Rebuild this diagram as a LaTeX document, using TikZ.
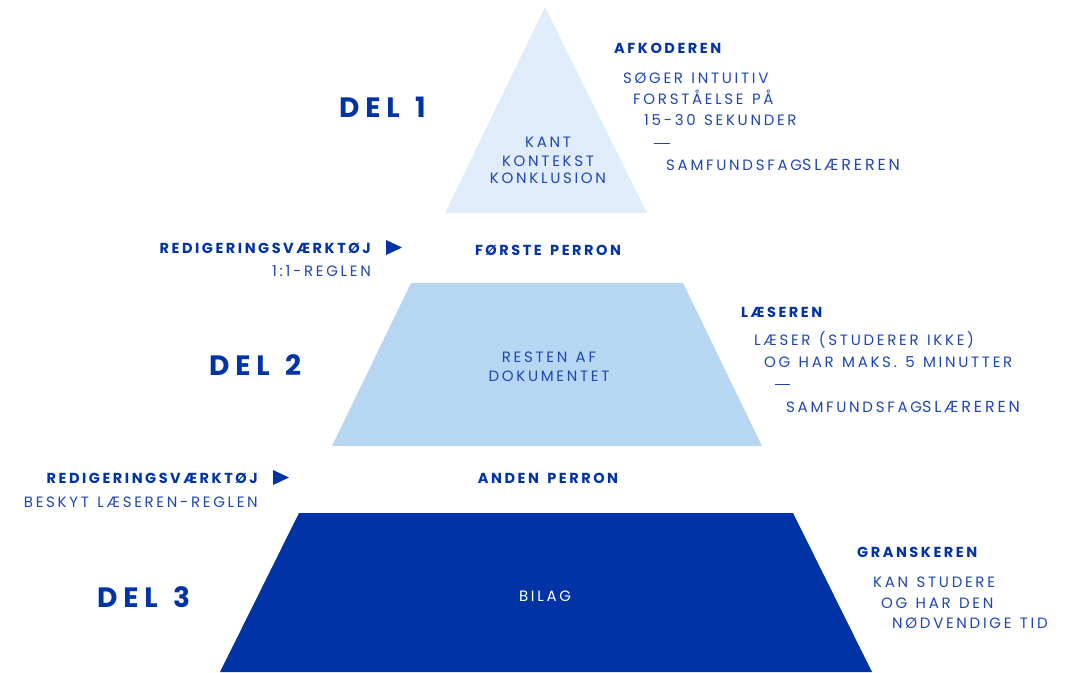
\documentclass[tikz,border=0pt]{standalone}
\usepackage{fontspec}
\setmainfont{Poppins}
\newfontfamily\bodyf[LetterSpace=18,WordSpace=1.25]{Poppins}
\newfontfamily\boldf[LetterSpace=17.5,WordSpace=1.5]{Poppins Bold}
\newfontfamily\delf[LetterSpace=21,WordSpace=1.3]{Poppins Bold}
\definecolor{tierA}{RGB}{224,236,250}
\definecolor{tierB}{RGB}{182,214,242}
\definecolor{tierC}{RGB}{0,51,166}
\definecolor{ink}{RGB}{0,51,166}
\definecolor{inklight}{RGB}{30,70,180}
\tikzset{
  txt/.style={inner sep=0pt, text=inklight, font=\bodyf\fontsize{15}{15}\selectfont},
  lbl/.style={inner sep=0pt, text=ink, font=\boldf\fontsize{14.5}{14.5}\selectfont},
  del/.style={inner sep=0pt, text=ink, font=\delf\fontsize{28}{28}\selectfont},
  dashmark/.style={draw=inklight, line width=1pt},
  tip/.style={fill=ink}
}
\begin{document}
\begin{tikzpicture}[x=1pt,y=-1pt]
\useasboundingbox (0,0) rectangle (1075,672);
% tiers
\fill[tierA] (545,7) -- (647,213) -- (445,213) -- cycle;
\fill[tierB] (411,283) -- (683,283) -- (762,446) -- (332,446) -- cycle;
\fill[tierC] (299,513) -- (793,513) -- (872,672) -- (220,672) -- cycle;

% DEL labels
\node[del, anchor=base west] (del1) at (339,117) {DEL 1};
\node[del, anchor=base west] (del2) at (209,375) {DEL 2};
\node[del, anchor=base west] (del3) at (97,607) {DEL 3};

% tier texts
\node[txt, anchor=base] (t1a) at (548,147) {KANT};
\node[txt, anchor=base] (t1b) at (548,166) {KONTEKST};
\node[txt, anchor=base] (t1c) at (548,183) {KONKLUSION};
\node[txt, anchor=base] (t2a) at (549,362) {RESTEN AF};
\node[txt, anchor=base] (t2b) at (549,381) {DOKUMENTET};
\node[txt, anchor=base, text=white] (t3) at (545,601) {BILAG};

% platforms
\node[lbl, anchor=base] (p1) at (548,255) {FØRSTE PERRON};
\node[lbl, anchor=base] (p2) at (548,483) {ANDEN PERRON};

% tools
\node[lbl, anchor=base east] (r1) at (371,253) {REDIGERINGSVÆRKTØJ};
\node[txt, anchor=base east] (r1b) at (371,276) {1:1-REGLEN};
\fill[tip] (386,240) -- (402,247.5) -- (386,255) -- cycle;
\node[lbl, anchor=base east] (r2) at (258,483) {REDIGERINGSVÆRKTØJ};
\node[txt, anchor=base east] (r2b) at (258,507) {BESKYT LÆSEREN-REGLEN};
\fill[tip] (273,470) -- (289,477.5) -- (273,485) -- cycle;

% right column 1
\node[lbl, anchor=base west] (a0) at (614,53) {AFKODEREN};
\node[txt, anchor=base west] (a1) at (623,83) {SØGER INTUITIV};
\node[txt, anchor=base west] (a2) at (633,104) {FORSTÅELSE PÅ};
\node[txt, anchor=base west] (a3) at (644,125) {15-30 SEKUNDER};
\coordinate (ad1) at (654,143);
\coordinate (ad2) at (670,143);
\draw[dashmark] (ad1) -- (ad2);
\node[txt, anchor=base west] (a4) at (666,170) {SAMFUNDSFAG{\fontsize{16}{16}\selectfont SLÆREREN}};

% right column 2
\node[lbl, anchor=base west] (b0) at (741,317) {LÆSEREN};
\node[txt, anchor=base west] (b1) at (754,345) {LÆSER (STUDERER IKKE)};
\node[txt, anchor=base west] (b2) at (764,367) {OG HAR MAKS. 5 MINUTTER};
\coordinate (bd1) at (775,384);
\coordinate (bd2) at (790,384);
\draw[dashmark] (bd1) -- (bd2);
\node[txt, anchor=base west] (b3) at (786,412) {SAMFUNDSFAG{\fontsize{16}{16}\selectfont SLÆREREN}};

% right column 3
\node[lbl, anchor=base west] (c0) at (857,557) {GRANSKEREN};
\node[txt, anchor=base west] (c1) at (873,587) {KAN STUDERE};
\node[txt, anchor=base west] (c2) at (881,608) {OG HAR DEN};
\node[txt, anchor=base west] (c3) at (892,628) {NØDVENDIGE TID};
\end{tikzpicture}
\end{document}
